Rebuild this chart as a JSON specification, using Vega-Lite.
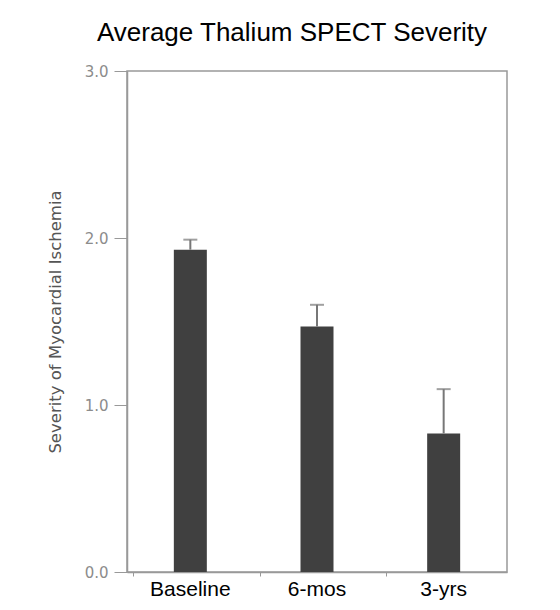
{
  "$schema": "https://vega.github.io/schema/vega-lite/v6.json",
  "autosize": {"type": "none"},
  "width": 380,
  "height": 501,
  "padding": {"left": 127, "top": 71, "right": 53, "bottom": 38},
  "background": "white",
  "title": {
    "text": "Average Thalium SPECT Severity",
    "font": "Liberation Sans",
    "fontSize": 26,
    "fontWeight": "normal",
    "color": "#000000",
    "anchor": "middle",
    "dx": -25,
    "offset": 18
  },
  "data": {
    "values": [
      {"period": "Baseline", "mean": 1.93, "upper": 1.99},
      {"period": "6-mos", "mean": 1.47, "upper": 1.6},
      {"period": "3-yrs", "mean": 0.83, "upper": 1.095}
    ]
  },
  "encoding": {
    "x": {
      "field": "period",
      "type": "nominal",
      "sort": ["Baseline", "6-mos", "3-yrs"],
      "title": null,
      "axis": {
        "labelAngle": 0,
        "labelFont": "Liberation Sans",
        "labelFontSize": 21,
        "labelColor": "#000000",
        "labelPadding": 2,
        "bandPosition": 0,
        "tickSize": 4,
        "tickColor": "#999999",
        "domainColor": "#999999",
        "domainWidth": 1.5
      }
    }
  },
  "layer": [
    {
      "mark": {"type": "bar", "size": 33, "color": "#404040"},
      "encoding": {
        "y": {
          "field": "mean",
          "type": "quantitative",
          "scale": {"domain": [0, 3], "nice": false},
          "title": "Severity of Myocardial Ischemia",
          "axis": {
            "values": [0, 1, 2, 3],
            "format": ".1f",
            "grid": false,
            "tickSize": 13,
            "tickColor": "#999999",
            "domainColor": "#999999",
            "domainWidth": 1.5,
            "labelFont": "DejaVu Sans",
            "labelFontSize": 15,
            "labelFontWeight": "normal",
            "labelColor": "#8c8c8c",
            "labelPadding": 6,
            "titleFont": "DejaVu Sans",
            "titleFontSize": 16.5,
            "titleFontWeight": "normal",
            "titleColor": "#555555",
            "titlePadding": 21
          }
        }
      }
    },
    {
      "mark": {"type": "rule", "color": "#777777", "strokeWidth": 2},
      "encoding": {
        "y": {"field": "mean", "type": "quantitative"},
        "y2": {"field": "upper"}
      }
    },
    {
      "mark": {"type": "tick", "color": "#777777", "thickness": 2, "size": 14},
      "encoding": {
        "y": {"field": "upper", "type": "quantitative"}
      }
    }
  ],
  "config": {
    "view": {"stroke": "#999999", "strokeWidth": 1.5}
  }
}
